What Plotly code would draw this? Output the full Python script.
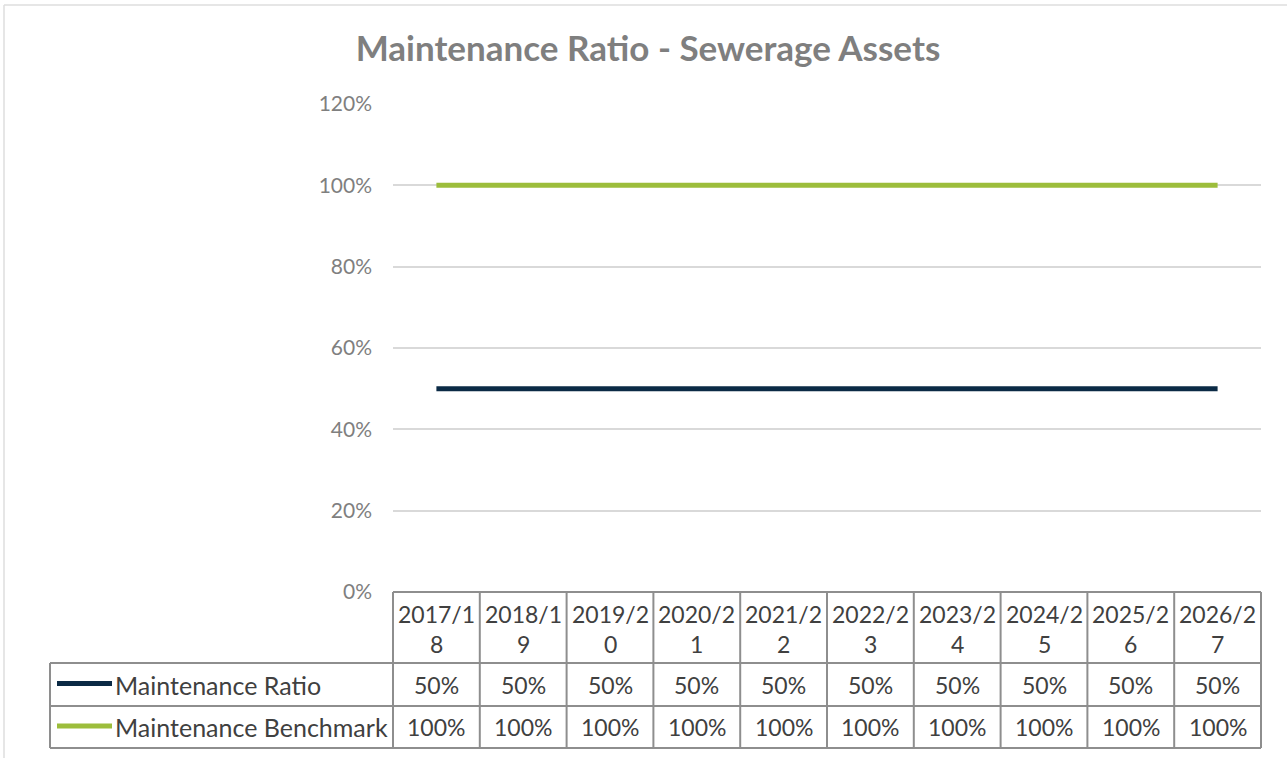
import plotly.graph_objects as go

# ---- data ----
categories = ["2017/18", "2018/19", "2019/20", "2020/21", "2021/22",
              "2022/23", "2023/24", "2024/25", "2025/26", "2026/27"]
maintenance_ratio = [0.50, 0.50, 0.50, 0.50, 0.50, 0.50, 0.50, 0.50, 0.50, 0.50]
maintenance_benchmark = [1.00, 1.00, 1.00, 1.00, 1.00, 1.00, 1.00, 1.00, 1.00, 1.00]
series_names = ["Maintenance Ratio", "Maintenance Benchmark"]
title_text = "Maintenance Ratio - Sewerage Assets"
y_tick_values = [0, 0.2, 0.4, 0.6, 0.8, 1.0, 1.2]

# ---- layout geometry (page pixels) ----
W, H = 1287, 758
L, R, T, B = 393, 26, 104, 758 - 592
PW = W - L - R
PH = H - T - B
NAVY = "#0b2a45"
GREEN = "#9cbd3b"
BORDER = "#8e8e8e"
TXT = "#404040"
FONT = "Lato"


def px(xp):
    return (xp - L) / PW


def py(yp):
    return (H - B - yp) / PH


fig = go.Figure()
series = [maintenance_ratio, maintenance_benchmark]
colors = [NAVY, GREEN]
for name, vals, col in zip(series_names, series, colors):
    fig.add_trace(go.Scatter(x=categories, y=vals, mode="lines", name=name,
                             line=dict(color=col, width=5), showlegend=False))

shapes = []
annotations = []

# outer chart border (left & top)
shapes.append(dict(type="line", xref="paper", yref="paper", x0=px(4), x1=px(1300),
                   y0=py(5), y1=py(5), line=dict(color="#dedede", width=1.5)))
shapes.append(dict(type="line", xref="paper", yref="paper", x0=px(4), x1=px(4),
                   y0=py(5), y1=py(770), line=dict(color="#dedede", width=1.5)))

# table rows (pixel y of borders)
y_head_top, y_head_bot, y_r1_bot, y_r2_bot = 592, 663, 706, 748
tbl_left = 50
bw = 2
shapes.append(dict(type="line", xref="paper", yref="paper", x0=0, x1=1,
                   y0=py(y_head_top), y1=py(y_head_top), line=dict(color=BORDER, width=bw)))
for yy in [y_head_bot, y_r1_bot, y_r2_bot]:
    shapes.append(dict(type="line", xref="paper", yref="paper", x0=px(tbl_left), x1=1,
                       y0=py(yy), y1=py(yy), line=dict(color=BORDER, width=bw)))
shapes.append(dict(type="line", xref="paper", yref="paper", x0=0, x1=0,
                   y0=py(y_head_top), y1=py(y_r2_bot), line=dict(color=BORDER, width=bw)))
shapes.append(dict(type="line", xref="paper", yref="paper", x0=1, x1=1,
                   y0=py(y_head_top), y1=py(y_r2_bot), line=dict(color=BORDER, width=bw)))
shapes.append(dict(type="line", xref="paper", yref="paper", x0=px(tbl_left), x1=px(tbl_left),
                   y0=py(y_head_bot), y1=py(y_r2_bot), line=dict(color=BORDER, width=bw)))
for i in range(1, len(categories)):
    shapes.append(dict(type="line", xref="x", yref="paper", x0=i - 0.5, x1=i - 0.5,
                       y0=py(y_head_top), y1=py(y_r2_bot), line=dict(color=BORDER, width=bw)))

# header cells
for i, c in enumerate(categories):
    lab = c[:6] + "<br>" + c[6:]
    annotations.append(dict(x=i, y=py((y_head_top + y_head_bot) / 2 + 1), xref="x", yref="paper",
                            text=lab, showarrow=False, font=dict(family=FONT, size=23, color=TXT),
                            xanchor="center", yanchor="middle", align="center"))

# data rows
row_centers = [(y_head_bot + y_r1_bot) / 2, (y_r1_bot + y_r2_bot) / 2]
for r, (name, vals, col) in enumerate(zip(series_names, series, colors)):
    yc = row_centers[r]
    for i, v in enumerate(vals):
        annotations.append(dict(x=i, y=py(yc), xref="x", yref="paper", text=f"{v:.0%}",
                                showarrow=False, font=dict(family=FONT, size=23, color=TXT),
                                xanchor="center", yanchor="middle"))
    shapes.append(dict(type="line", xref="paper", yref="paper", x0=px(57), x1=px(112),
                       y0=py(yc - 1), y1=py(yc - 1), line=dict(color=col, width=5)))
    annotations.append(dict(x=px(113), y=py(yc), xref="paper", yref="paper", text=name,
                            showarrow=False, font=dict(family=FONT, size=25, color=TXT),
                            xanchor="left", yanchor="middle"))

fig.update_layout(
    width=W, height=H,
    margin=dict(l=L, r=R, t=T, b=B),
    paper_bgcolor="white", plot_bgcolor="white",
    title=dict(text=f"<b>{title_text}</b>", x=648 / W, xref="container", xanchor="center",
               y=1 - 49 / H, yref="container", yanchor="middle",
               font=dict(family=FONT, size=35, color="#7f7f7f")),
    xaxis=dict(type="category", range=[-0.5, len(categories) - 0.5], showticklabels=False,
               showgrid=False, zeroline=False, showline=False, ticks=""),
    yaxis=dict(range=[0, 1.2], tickvals=y_tick_values, tickformat=".0%",
               showgrid=True, gridcolor="#d9d9d9", gridwidth=1.5, zeroline=False,
               showline=False, ticks="", ticklabelstandoff=20,
               tickfont=dict(family=FONT, size=21, color="#7f7f7f")),
    shapes=shapes, annotations=annotations,
)

fig.write_html("out.html", config={"displayModeBar": False},
               post_script="document.body.style.margin='0';document.body.style.overflow='hidden';")
